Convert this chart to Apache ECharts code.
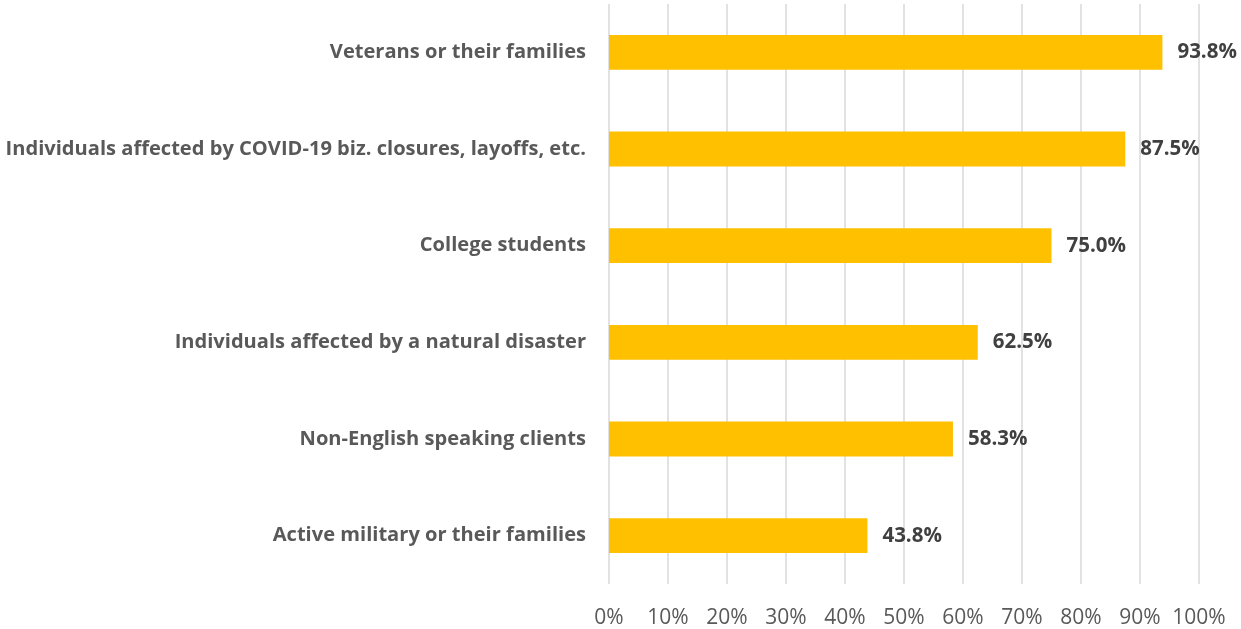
<!DOCTYPE html>
<html><head><meta charset="utf-8">
<script src="https://cdn.jsdelivr.net/npm/echarts@6/dist/echarts.min.js"></script>
<style>html,body{margin:0;padding:0;background:#fff}#c{width:1241px;height:629px}</style>
</head><body><div id="c"></div>
<script>
const categories = ["Active military or their families","Non-English speaking clients","Individuals affected by a natural disaster","College students","Individuals affected by COVID-19 biz. closures, layoffs, etc.","Veterans or their families"];
const values = [43.8, 58.3, 62.5, 75.0, 87.5, 93.8];
const tickLabels = ["0%","10%","20%","30%","40%","50%","60%","70%","80%","90%","100%"];
const FONT = "Open Sans";
const chart = echarts.init(document.getElementById('c'));
chart.setOption({
  animation:false,
  grid:{left:609,right:42,top:4,bottom:45,containLabel:false},
  xAxis:{type:'value',min:0,max:100,interval:10,
    axisLine:{show:false},axisTick:{show:false},
    splitLine:{lineStyle:{color:'#D9D9D9',width:1.5}},
    axisLabel:{margin:24,fontFamily:FONT,fontSize:21,color:'#595959',
      formatter:(v)=>tickLabels[Math.round(v/10)]}},
  yAxis:{type:'category',data:categories,
    axisLine:{show:false},axisTick:{show:false},
    axisLabel:{margin:23,fontFamily:FONT,fontSize:20.1,fontWeight:'bold',color:'#595959',padding:[6,0,0,0]}},
  series:[{type:'bar',data:values,barWidth:'36%',itemStyle:{color:'#FFC000'},
    label:{show:true,position:'right',distance:15,fontFamily:FONT,fontSize:20.5,fontWeight:'bold',color:'#404040',
      padding:[6,0,0,0],
      formatter:(p)=>p.value.toFixed(1)+'%'}}]
});
</script></body></html>
